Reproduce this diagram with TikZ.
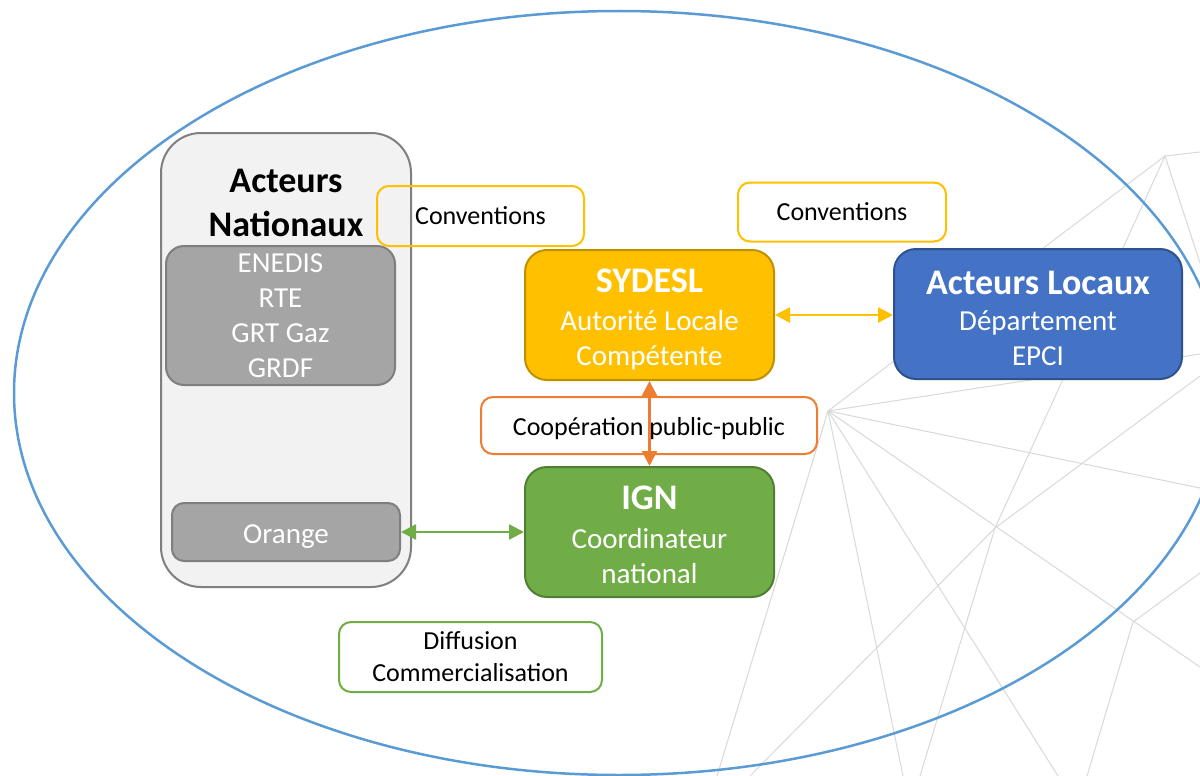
\documentclass[tikz,border=0pt]{standalone}
\usepackage{fontspec}
\setmainfont{Carlito}
\usetikzlibrary{arrows.meta}
\definecolor{ellblue}{HTML}{5B9BD5}
\definecolor{bglines}{HTML}{D9D9D9}
\definecolor{natgrey}{HTML}{7F7F7F}
\definecolor{natfill}{HTML}{F2F2F2}
\definecolor{subfill}{HTML}{A5A5A5}
\definecolor{sydfill}{HTML}{FFC000}
\definecolor{syddraw}{HTML}{BF9000}
\definecolor{ignfill}{HTML}{70AD47}
\definecolor{igndraw}{HTML}{507E32}
\definecolor{locfill}{HTML}{4472C4}
\definecolor{locdraw}{HTML}{2F528F}
\definecolor{coopcol}{HTML}{ED7D31}
\newcommand\diagBody{\fontsize{29}{35}\selectfont}
\newcommand\diagTitle{\fontsize{36}{40}\selectfont\bfseries}
\newcommand\diagLabel{\fontsize{26}{32}\selectfont}
\tikzset{
  bgline/.style={draw=bglines, line width=1pt},
  bigbox/.style={draw=natgrey, fill=natfill, line width=2pt, rounded corners=40pt, inner sep=0pt},
  subbox/.style={draw=natgrey, fill=subfill, line width=2pt, rounded corners=18pt, text=white, font=\diagBody, align=center, inner sep=0pt},
  mainbox/.style={line width=2pt, rounded corners=22pt, text=white, font=\diagBody, align=center, minimum width=249pt, minimum height=130pt, inner sep=0pt},
  labelbox/.style={line width=2pt, rounded corners=12pt, text=black, font=\diagLabel, align=center, inner sep=0pt},
  link/.style={line width=2.5pt, {Triangle[length=15pt,width=15pt]}-{Triangle[length=15pt,width=15pt]}}
}
\begin{document}
\begin{tikzpicture}[x=1pt,y=-1pt]
\useasboundingbox (0,0) rectangle (1200,776);
\clip (0,0) rectangle (1200,776);
\fill[white] (0,0) rectangle (1200,776);
% background network
\coordinate (A) at (1165,156);
\coordinate (B) at (828,411);
\coordinate (C) at (995,528);
\coordinate (D) at (1133,622);
\draw[bgline] (A) -- (1200,152);
\draw[bgline] (A) -- (1200,263);
\draw[bgline] (A) -- (B);
\draw[bgline] (A) -- (C);
\draw[bgline] (C) -- (920,776);
\draw[bgline] (C) -- (750,776);
\draw[bgline] (C) -- (1200,376);
\draw[bgline] (B) -- (717,776);
\draw[bgline] (B) -- (903,776);
\draw[bgline] (B) -- (1058,776);
\draw[bgline] (B) -- (1200,667);
\draw[bgline] (B) -- (1200,488);
\draw[bgline] (B) -- (1200,354);
\draw[bgline] (D) -- (1200,573);
\draw[bgline] (D) -- (1087,776);
% ellipse
\draw[ellblue, line width=2.5pt] (619,393) ellipse [x radius=605, y radius=382];
% national actors
\node[bigbox, minimum width=250pt, minimum height=454pt] (nat) at (286,360) {};
\node[font=\diagTitle, align=center, text=black] (natTitle) at (286,203) {Acteurs\\[4pt]Nationaux};
\node[subbox, minimum width=229pt, minimum height=139pt] (nets) at (280.5,315.5) {ENEDIS\\RTE\\GRT Gaz\\GRDF};
\node[subbox, rounded corners=12pt, minimum width=228pt, minimum height=58pt] (orng) at (286,532) {\rule{0pt}{27pt}Orange};
% labels
\node[labelbox, draw=sydfill, minimum width=207pt, minimum height=60pt] (conv1) at (480.5,216) {Conventions};
\node[labelbox, draw=sydfill, minimum width=208pt, minimum height=59pt] (conv2) at (842,212) {Conventions};
\node[labelbox, draw=coopcol, fill=white, minimum width=336pt, minimum height=57pt] (coop) at (649,425.5) {\rule{0pt}{25pt}Coopération public-public};
\node[labelbox, draw=ignfill, minimum width=263pt, minimum height=70pt] (diff) at (470.5,657) {Diffusion\\Commercialisation};
% main boxes
\node[mainbox, draw=syddraw, fill=sydfill] (syd) at (649.5,315) {{\diagTitle\rule{0pt}{33pt}SYDESL}\\[3pt]Autorité Locale\\Compétente};
\node[mainbox, draw=igndraw, fill=ignfill] (ign) at (649.5,532) {{\diagTitle\rule{0pt}{29pt}IGN}\\[4pt]Coordinateur\\national};
\node[mainbox, draw=locdraw, fill=locfill, minimum width=288pt] (loc) at (1038,314) {{\diagTitle\rule{0pt}{33pt}Acteurs Locaux}\\[1pt]Département\\EPCI};
% connectors
\draw[link, sydfill] (syd.east) -- (loc.west |- syd.east);
\draw[link, coopcol] (syd.south) -- (ign.north);
\draw[link, ignfill] (orng.east) -- (ign.west);
\end{tikzpicture}
\end{document}
